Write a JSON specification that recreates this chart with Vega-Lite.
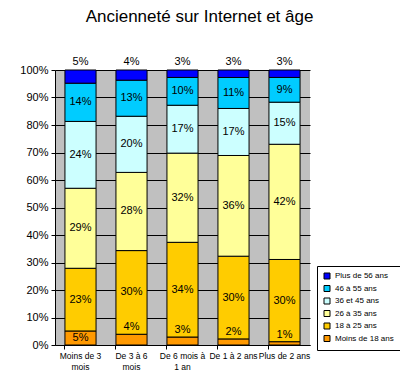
{
  "$schema": "https://vega.github.io/schema/vega-lite/v6.json",
  "width": 255,
  "height": 275,
  "autosize": {"type": "none"},
  "padding": {"left": 55, "top": 70, "right": 90, "bottom": 45},
  "background": "white",
  "title": {
    "text": "Ancienneté sur Internet et âge",
    "font": "Liberation Sans",
    "fontSize": 17,
    "fontWeight": "normal",
    "color": "black",
    "anchor": "middle",
    "dx": 17,
    "offset": 30
  },
  "config": {
    "view": {"fill": "#C0C0C0", "stroke": null},
    "font": "Liberation Sans"
  },
  "data": {
    "values": [
      {"cat": "Moins de 3 mois", "age": "Moins de 18 ans", "value": 5.1},
      {"cat": "Moins de 3 mois", "age": "18 à 25 ans", "value": 22.8},
      {"cat": "Moins de 3 mois", "age": "26 à 35 ans", "value": 29.1},
      {"cat": "Moins de 3 mois", "age": "36 et 45 ans", "value": 24.3},
      {"cat": "Moins de 3 mois", "age": "46 à 55 ans", "value": 13.9},
      {"cat": "Moins de 3 mois", "age": "Plus de 56 ans", "value": 4.8},
      {"cat": "De 3 à 6 mois", "age": "Moins de 18 ans", "value": 3.9},
      {"cat": "De 3 à 6 mois", "age": "18 à 25 ans", "value": 30.4},
      {"cat": "De 3 à 6 mois", "age": "26 à 35 ans", "value": 28.4},
      {"cat": "De 3 à 6 mois", "age": "36 et 45 ans", "value": 20.4},
      {"cat": "De 3 à 6 mois", "age": "46 à 55 ans", "value": 13.1},
      {"cat": "De 3 à 6 mois", "age": "Plus de 56 ans", "value": 3.7},
      {"cat": "De 6 mois à 1 an", "age": "Moins de 18 ans", "value": 2.9},
      {"cat": "De 6 mois à 1 an", "age": "18 à 25 ans", "value": 34.4},
      {"cat": "De 6 mois à 1 an", "age": "26 à 35 ans", "value": 32.4},
      {"cat": "De 6 mois à 1 an", "age": "36 et 45 ans", "value": 17.4},
      {"cat": "De 6 mois à 1 an", "age": "46 à 55 ans", "value": 10.1},
      {"cat": "De 6 mois à 1 an", "age": "Plus de 56 ans", "value": 2.7},
      {"cat": "De 1 à 2 ans", "age": "Moins de 18 ans", "value": 2.2},
      {"cat": "De 1 à 2 ans", "age": "18 à 25 ans", "value": 29.9},
      {"cat": "De 1 à 2 ans", "age": "26 à 35 ans", "value": 36.4},
      {"cat": "De 1 à 2 ans", "age": "36 et 45 ans", "value": 17.0},
      {"cat": "De 1 à 2 ans", "age": "46 à 55 ans", "value": 11.2},
      {"cat": "De 1 à 2 ans", "age": "Plus de 56 ans", "value": 2.7},
      {"cat": "Plus de 2 ans", "age": "Moins de 18 ans", "value": 1.2},
      {"cat": "Plus de 2 ans", "age": "18 à 25 ans", "value": 29.9},
      {"cat": "Plus de 2 ans", "age": "26 à 35 ans", "value": 41.9},
      {"cat": "Plus de 2 ans", "age": "36 et 45 ans", "value": 15.3},
      {"cat": "Plus de 2 ans", "age": "46 à 55 ans", "value": 9.0},
      {"cat": "Plus de 2 ans", "age": "Plus de 56 ans", "value": 2.7}
    ]
  },
  "transform": [
    {"calculate": "indexof(['Moins de 18 ans','18 à 25 ans','26 à 35 ans','36 et 45 ans','46 à 55 ans','Plus de 56 ans'], datum.age)", "as": "k"},
    {"stack": "value", "groupby": ["cat"], "sort": [{"field": "k", "order": "ascending"}], "offset": "normalize", "as": ["y0", "y1"]},
    {"calculate": "datum.value / 100", "as": "pct"},
    {"calculate": "datum.age == 'Plus de 56 ans' ? 1.03 : (datum.y1 - datum.y0 < 0.045 ? datum.y1 + 0.025 : (datum.y0 + datum.y1) / 2)", "as": "ly"}
  ],
  "layer": [
    {
      "mark": {"type": "bar", "stroke": "black", "strokeWidth": 1},
      "encoding": {
        "x": {
          "field": "cat", "type": "nominal", "sort": null, "title": null,
          "scale": {"paddingInner": 0.39, "paddingOuter": 0.195},
          "axis": {
            "labelAngle": 0, "ticks": false, "domain": true, "domainColor": "black",
            "labelFontSize": 8.5, "labelColor": "black", "labelPadding": 6,
            "labelBaseline": "top", "labelLineHeight": 11,
            "labelExpr": "datum.label == 'Moins de 3 mois' ? ['Moins de 3', 'mois'] : datum.label == 'De 3 à 6 mois' ? ['De 3 à 6', 'mois'] : datum.label == 'De 6 mois à 1 an' ? ['De 6 mois à', '1 an'] : datum.label"
          }
        },
        "y": {
          "field": "y0", "type": "quantitative", "title": null,
          "scale": {"domain": [0, 1], "nice": false},
          "axis": {
            "format": ".0%", "values": [0, 0.1, 0.2, 0.3, 0.4, 0.5, 0.6, 0.7, 0.8, 0.9, 1],
            "grid": true, "gridColor": "black", "gridOpacity": 1, "gridWidth": 1,
            "domainColor": "black", "tickColor": "black", "tickSize": 4,
            "labelFontSize": 11, "labelColor": "black", "labelPadding": 3
          }
        },
        "y2": {"field": "y1"},
        "color": {
          "field": "age", "type": "nominal",
          "scale": {
            "domain": ["Plus de 56 ans", "46 à 55 ans", "36 et 45 ans", "26 à 35 ans", "18 à 25 ans", "Moins de 18 ans"],
            "range": ["#0000FF", "#00CCFF", "#CCFFFF", "#FFFF99", "#FFCC00", "#FF9900"]
          },
          "legend": {
            "title": null, "orient": "none", "legendX": 262, "legendY": 196,
            "symbolType": "square", "symbolSize": 36, "symbolStrokeColor": "black", "symbolStrokeWidth": 1,
            "labelFontSize": 8, "labelColor": "black", "rowPadding": 2.5, "labelOffset": 4,
            "padding": 6, "strokeColor": "black", "fillColor": "white"
          }
        }
      }
    },
    {
      "mark": {"type": "text", "fontSize": 11, "color": "black", "baseline": "middle", "align": "center"},
      "encoding": {
        "x": {
          "field": "cat", "type": "nominal", "sort": null, "title": null,
          "scale": {"paddingInner": 0.39, "paddingOuter": 0.195},
          "axis": {"orient": "bottom", "labels": false, "domain": false, "ticks": true, "tickColor": "black", "tickSize": 4, "bandPosition": 0}
        },
        "y": {"field": "ly", "type": "quantitative", "scale": {"domain": [0, 1], "nice": false}, "axis": null},
        "text": {"field": "pct", "type": "quantitative", "format": ".0%"}
      }
    }
  ],
  "resolve": {"axis": {"x": "independent", "y": "independent"}}
}
